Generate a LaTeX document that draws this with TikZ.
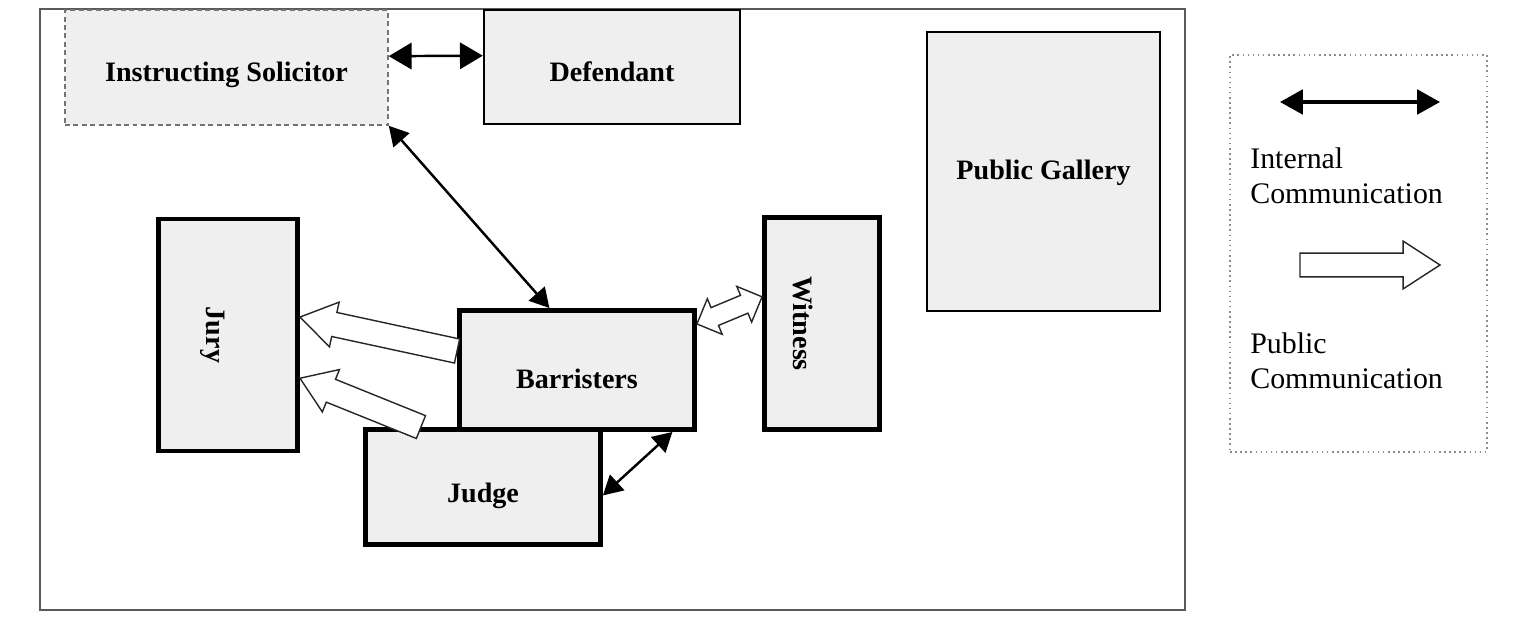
\documentclass[tikz,border=0pt]{standalone}
\usepackage{fontspec}
\setmainfont{Liberation Serif}
\usetikzlibrary{arrows.meta,calc}
\definecolor{boxfill}{HTML}{EFEFEF}
\newcommand{\pubarrow}[5]{%
\coordinate (pa-h) at ($(#2)!#5!(#1)$);
\draw[publine] ($(#1)!#3!90:(#2)$) -- ($(pa-h)!#3!90:(#2)$) -- ($(pa-h)!#4!90:(#2)$) -- (#2)
  -- ($(pa-h)!#4!-90:(#2)$) -- ($(pa-h)!#3!-90:(#2)$) -- ($(#1)!#3!-90:(#2)$) -- cycle;}
\newcommand{\pubdarrow}[5]{%
\coordinate (pa-a) at ($(#1)!#5!(#2)$);
\coordinate (pa-b) at ($(#2)!#5!(#1)$);
\draw[publine] (#1) -- ($(pa-a)!#4!90:(#2)$) -- ($(pa-a)!#3!90:(#2)$) -- ($(pa-b)!#3!90:(#2)$) -- ($(pa-b)!#4!90:(#2)$) -- (#2)
  -- ($(pa-b)!#4!-90:(#2)$) -- ($(pa-b)!#3!-90:(#2)$) -- ($(pa-a)!#3!-90:(#2)$) -- ($(pa-a)!#4!-90:(#2)$) -- cycle;}
\begin{document}
\begin{tikzpicture}[x=0.02cm,y=-0.02cm,
  room/.style={draw, fill=boxfill, line width=2.8pt, inner sep=0pt, text depth=0pt, font=\bfseries\fontsize{16}{19}\selectfont},
  thinroom/.style={room, line width=1.4pt},
  intline/.style={line width=1.4pt, {Triangle[length=11pt,width=12pt]}-{Triangle[length=11pt,width=12pt]}},
  publine/.style={draw=black!85, fill=white, line width=0.8pt, line join=miter},
  legtext/.style={font=\fontsize{17}{20}\selectfont, align=left, inner sep=0pt, anchor=north west}]
\useasboundingbox (0,0) rectangle (1514,622);
\draw[black!65, line width=1.1pt] (40,9) rectangle (1185,610);
\node[room, draw=black!55, dotted, line width=0.9pt, minimum width=6.46cm, minimum height=2.3cm, text height=16.5pt] (solicitor) at (226.5,67.5) {Instructing Solicitor};
\node[thinroom, minimum width=5.12cm, minimum height=2.28cm, text height=17pt] (defendant) at (612,67) {Defendant};
\node[thinroom, minimum width=4.66cm, minimum height=5.58cm, text height=9pt] (gallery) at (1043.5,171.5) {Public Gallery};
\node[room, rotate=-90, minimum width=4.64cm, minimum height=2.78cm, text height=24pt] (jury) at (228,335) {Jury};
\node[room, rotate=-90, minimum width=4.24cm, minimum height=2.3cm, text height=32pt] (witness) at (822,323.5) {Witness};
\node[room, minimum width=4.7cm, minimum height=2.38cm, text height=21pt] (barristers) at (577,370) {Barristers};
\node[room, minimum width=4.7cm, minimum height=2.3cm, text height=18pt] (judge) at (483,487) {Judge};
\draw[intline, {Triangle[length=13pt,width=15pt]}-{Triangle[length=13pt,width=15pt]}] (solicitor.4) -- (defendant.175);
\draw[intline] (solicitor.south east) -- (barristers.114);
\draw[intline] (judge.-4) -- (barristers.-33);
\pubarrow{barristers.171}{jury.104.5}{7pt}{13pt}{20pt}
\pubarrow{judge.136}{jury.59}{7pt}{13pt}{19pt}
\pubdarrow{barristers.21}{witness.246}{5.5pt}{11pt}{11pt}
\node[draw=black!45, dotted, line width=0.9pt, minimum width=5.14cm, minimum height=7.94cm] (legend) at (1358.5,253.5) {};
\coordinate (int-a) at (1280,102);
\coordinate (int-b) at (1440,102);
\draw[intline, line width=1.8pt, {Triangle[length=13pt,width=14pt]}-{Triangle[length=13pt,width=14pt]}] (int-a) -- (int-b);
\node[legtext] (inttext) at (1250,147) {Internal\\Communication};
\coordinate (pub-a) at (1300,265);
\coordinate (pub-b) at (1440,265);
\pubarrow{pub-a}{pub-b}{6.8pt}{13.6pt}{21pt}
\node[legtext] (pubtext) at (1250,332) {Public\\Communication};
\end{tikzpicture}
\end{document}
